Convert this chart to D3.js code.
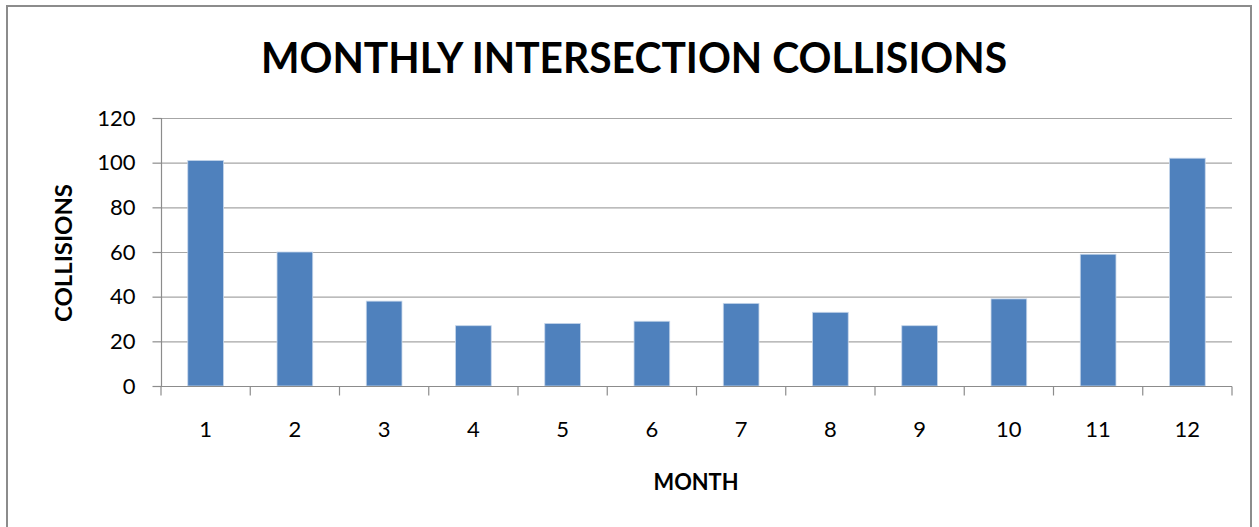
<!DOCTYPE html>
<html>
<head>
<meta charset="utf-8">
<script src="https://cdn.jsdelivr.net/npm/d3@7"></script>
<style>
  body { margin: 0; background: #fff; }
  text { font-family: Lato, "Open Sans", sans-serif; fill: #000; }
</style>
</head>
<body>
<script>
// dati
var months = ["1", "2", "3", "4", "5", "6", "7", "8", "9", "10", "11", "12"];
var collisions = [101, 60, 38, 27, 28, 29, 37, 33, 27, 39, 59, 102];
var yTicks = [0, 20, 40, 60, 80, 100, 120];

var W = 1259, H = 527;
var margin = {top: 118, right: 27, bottom: 141, left: 161};
var width = W - margin.left - margin.right;
var height = H - margin.top - margin.bottom;

var svg = d3.select("body").append("svg")
    .attr("width", W)
    .attr("height", H);

// bordo esterno del grafico
svg.append("rect")
    .attr("x", 7).attr("y", 6)
    .attr("width", 1244).attr("height", 540)
    .attr("fill", "none")
    .attr("stroke", "#8c8c8c")
    .attr("stroke-width", 2);

var g = svg.append("g")
    .attr("transform", "translate(" + margin.left + "," + margin.top + ")");

var x = d3.scaleBand().domain(months).range([0, width]).paddingInner(0.6).paddingOuter(0.3);
var xEdge = d3.scaleLinear().domain([0, months.length]).range([0, width]);
var y = d3.scaleLinear().domain([0, 120]).range([height, 0]);

// griglia orizzontale
g.selectAll("line.grid").data(yTicks.filter(function(d) { return d > 0; })).enter().append("line")
    .attr("class", "grid")
    .attr("x1", 0).attr("x2", width)
    .attr("y1", function(d) { return y(d) + 0.5; })
    .attr("y2", function(d) { return y(d) + 0.5; })
    .attr("stroke", "#a6a6a6")
    .attr("stroke-width", 1.2);

// barre
g.selectAll("rect.bar").data(collisions).enter().append("rect")
    .attr("class", "bar")
    .attr("x", function(d, i) { return x(months[i]); })
    .attr("y", function(d) { return y(d); })
    .attr("width", x.bandwidth())
    .attr("height", function(d) { return height - y(d); })
    .attr("fill", "#4f81bd")
    .attr("stroke", "#c6d6ea")
    .attr("stroke-width", 0.8);

// asse Y
var yAxis = d3.axisLeft(y).tickValues(yTicks).tickSize(9).tickPadding(17);
var ya = g.append("g").attr("transform", "translate(0.5,0)").call(yAxis);
ya.select(".domain").attr("stroke", "#8c8c8c").attr("stroke-width", 1.2).attr("d", "M0," + height + "V0");
ya.selectAll(".tick line").attr("stroke", "#8c8c8c").attr("stroke-width", 1.2);
ya.selectAll(".tick text").style("font-size", "22px").style("font-family", "Lato, sans-serif").attr("fill", "#1a1a1a");

// asse X
var xa = g.append("g").attr("transform", "translate(0," + (height + 0.5) + ")");
xa.append("line").attr("x1", 0).attr("x2", width)
    .attr("stroke", "#8c8c8c").attr("stroke-width", 1.2);
xa.selectAll("line.tick").data(d3.range(months.length + 1)).enter().append("line")
    .attr("class", "tick")
    .attr("x1", function(d) { return xEdge(d); })
    .attr("x2", function(d) { return xEdge(d); })
    .attr("y1", 0).attr("y2", 9)
    .attr("stroke", "#8c8c8c").attr("stroke-width", 1.2);
xa.selectAll("text").data(months).enter().append("text")
    .attr("x", function(d) { return x(d) + x.bandwidth() / 2; })
    .attr("y", 50.5)
    .attr("text-anchor", "middle")
    .attr("fill", "#1a1a1a")
    .style("font-size", "22px")
    .text(function(d) { return d; });

// titolo
svg.append("text")
    .attr("x", 634).attr("y", 73)
    .attr("text-anchor", "middle")
    .attr("textLength", 746)
    .attr("lengthAdjust", "spacingAndGlyphs")
    .style("font-size", "42px")
    .style("font-weight", "bold")
    .text("MONTHLY INTERSECTION COLLISIONS");

// titoli degli assi
svg.append("text")
    .attr("x", 696).attr("y", 490)
    .attr("text-anchor", "middle")
    .attr("textLength", 85)
    .attr("lengthAdjust", "spacingAndGlyphs")
    .style("font-size", "23px")
    .style("font-weight", "bold")
    .text("MONTH");

svg.append("text")
    .attr("transform", "translate(72,253) rotate(-90)")
    .attr("text-anchor", "middle")
    .attr("textLength", 138)
    .attr("lengthAdjust", "spacingAndGlyphs")
    .style("font-size", "23px")
    .style("font-weight", "bold")
    .text("COLLISIONS");
</script>
</body>
</html>
